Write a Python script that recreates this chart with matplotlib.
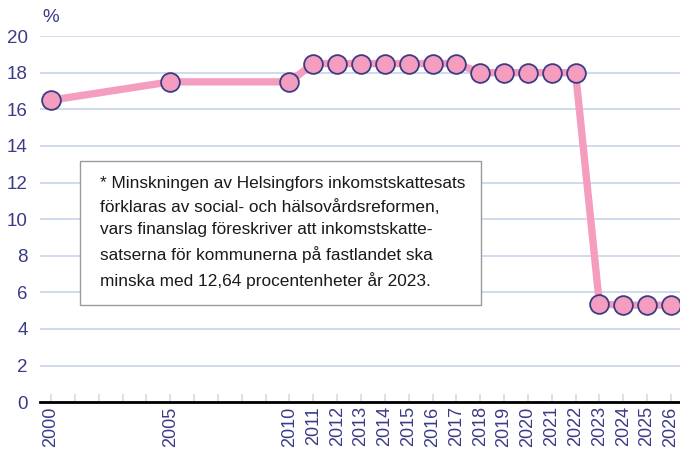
import matplotlib.pyplot as plt
from matplotlib.patches import Rectangle

# data
years = list(range(2000, 2027))
plot_years = [2000, 2005, 2010, 2011, 2012, 2013, 2014, 2015, 2016, 2017,
              2018, 2019, 2020, 2021, 2022, 2023, 2024, 2025, 2026]
rates = [16.5, 17.5, 17.5, 18.5, 18.5, 18.5, 18.5, 18.5, 18.5, 18.5,
         18.0, 18.0, 18.0, 18.0, 18.0, 5.36, 5.3, 5.3, 5.3]
label_years = [2000, 2005] + list(range(2010, 2027))
y_ticks = list(range(0, 21, 2))
note = ("* Minskningen av Helsingfors inkomstskattesats\n"
        "förklaras av social- och hälsovårdsreformen,\n"
        "vars finanslag föreskriver att inkomstskatte-\n"
        "satserna för kommunerna på fastlandet ska\n"
        "minska med 12,64 procentenheter år 2023.")

navy = '#3b3b86'
pink = '#f59dbf'
grid = '#cfdcee'

plt.rcParams['font.family'] = ['Liberation Sans', 'DejaVu Sans']

fig = plt.figure(figsize=(6.8, 4.57), dpi=100)
ax = fig.add_axes([0.059, 0.120, 0.941, 0.801])

ax.plot(plot_years, rates, color=pink, lw=5.3, zorder=3, clip_on=False,
        solid_capstyle='butt')
ax.plot(plot_years, rates, ls='none', marker='o', ms=13.5, mfc=pink,
        mec=navy, mew=1.3, zorder=4, clip_on=False)

ax.set_xlim(1999.54, 2026.38)
ax.set_ylim(0, 20)
ax.set_yticks(y_ticks)
ax.set_yticklabels([str(v) for v in y_ticks], color=navy, fontsize=13.5)
ax.tick_params(axis='y', length=0, pad=9)
ax.yaxis.grid(True, color=grid, lw=1.4)
ax.set_axisbelow(True)

ax.set_xticks(years, minor=True)
ax.set_xticks(label_years)
ax.set_xticklabels([str(y) for y in label_years], rotation=90, color=navy,
                   fontsize=13)
ax.tick_params(axis='x', which='both', direction='in', length=6,
               color=grid, width=1.2, pad=3)
for lbl in ax.get_xticklabels():
    lbl.set_va('top')

for s in ['top', 'right', 'left']:
    ax.spines[s].set_visible(False)
ax.spines['bottom'].set_linewidth(2)
ax.spines['bottom'].set_zorder(5)

fig.text(0.075, 0.962, '%', color=navy, fontsize=13.5, ha='center', va='center')

# note box
fig.patches.append(Rectangle((80 / 680, 1 - 305 / 457), 401 / 680, 144 / 457,
                             transform=fig.transFigure, fc='white',
                             ec='#9a9a9a', lw=1, zorder=6))
fig.text(100 / 680, 1 - 176 / 457, note, fontsize=12.4, color='#1a1a1a',
         va='top', ha='left', linespacing=1.62, zorder=7)

fig.savefig('out.png', dpi=100)
